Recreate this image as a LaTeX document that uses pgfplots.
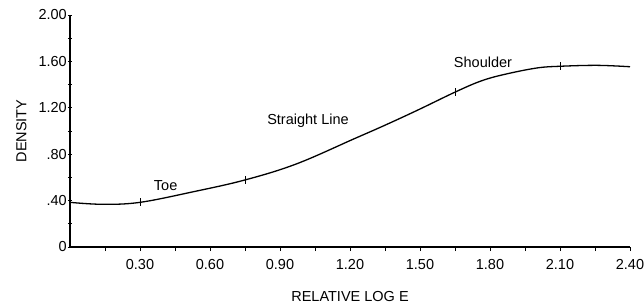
\documentclass[border=0pt]{standalone}
\usepackage{pgfplots}
\pgfplotsset{compat=1.18}
\usepackage{fontspec}
\setmainfont{Liberation Sans}
\begin{document}
\fontsize{14.5pt}{16pt}\selectfont
\begin{tikzpicture}[x=1pt,y=1pt]
\begin{axis}[name=ax,
  width=560pt, height=232pt, scale only axis,
  xmin=0, xmax=2.4, ymin=0, ymax=2.0,
  axis x line=bottom, axis y line=left,
  axis line style={-, line width=2pt},
  xtick={0.3,0.6,0.9,1.2,1.5,1.8,2.1,2.4},
  xticklabels={0.30,0.60,0.90,1.20,1.50,1.80,2.10,2.40},
  minor xtick={0.15,0.45,0.75,1.05,1.35,1.65,1.95,2.25},
  ytick={0,0.4,0.8,1.2,1.6,2.0},
  yticklabels={0,.40,.80,1.20,1.60,2.00},
  minor ytick={0.2,0.6,1.0,1.4,1.8},
  tick style={black, line width=0.9pt},
  major tick length=4pt, minor tick length=4pt,
  xtick align=outside, ytick align=center,
  /pgf/number format/assume math mode=true,
  ticklabel style={font=\fontsize{14.5pt}{16pt}\selectfont},
  xticklabel style={yshift=-3pt},
  yticklabel style={inner sep=1pt},
  xlabel={RELATIVE LOG E},
  ylabel={DENSITY},
  label style={font=\fontsize{14.5pt}{16pt}\selectfont},
  xlabel style={yshift=-12pt},
  ylabel style={yshift=6pt},
  clip=false,
]
\addplot[black, line width=1.3pt, smooth, tension=0.6] coordinates {
(0,0.385) (0.14,0.368) (0.30,0.385) (0.53,0.477) (0.75,0.578)
(0.97,0.716) (1.22,0.935) (1.35,1.05) (1.49,1.18) (1.65,1.335) (1.76,1.43)
(1.86,1.487) (2.0,1.543) (2.10,1.558) (2.26,1.566) (2.40,1.554)
};
\addplot[only marks, mark=|, mark size=4pt, mark options={line width=0.9pt}, black] coordinates {
(0.30,0.385) (0.75,0.578) (1.65,1.335) (2.10,1.558)
};
\node at (axis cs:0.41,0.53) {Toe};
\node at (axis cs:1.02,1.086) {Straight Line};
\node at (axis cs:1.77,1.59) {Shoulder};
\end{axis}
\pgfresetboundingbox
\path[use as bounding box] ([shift={(-70pt,-56pt)}]ax.south west) rectangle ([shift={(14pt,15pt)}]ax.north east);
\end{tikzpicture}
\end{document}
